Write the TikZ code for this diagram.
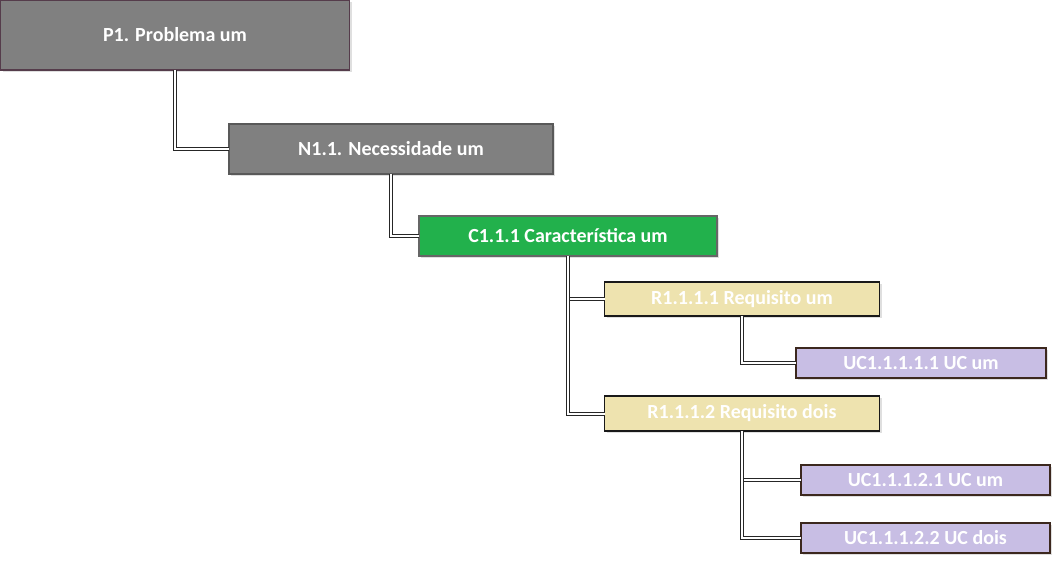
\documentclass[tikz,border=0pt]{standalone}
\usepackage{fontspec}
\setmainfont{Carlito}
\usetikzlibrary{shadows}

\definecolor{probgray}{RGB}{128,128,128}
\definecolor{probborder}{RGB}{85,60,75}
\definecolor{chargreen}{RGB}{34,177,76}
\definecolor{reqbeige}{RGB}{238,227,175}
\definecolor{uclilac}{RGB}{200,190,228}
\definecolor{ucborder}{RGB}{60,40,30}

\begin{document}
\begin{tikzpicture}[x=0.75pt, y=-0.75pt,
    item/.style={draw, outer sep=0pt, inner sep=0pt, text=white,
        font=\fontsize{15}{17}\selectfont\bfseries,
        drop shadow={shadow xshift=1.5pt, shadow yshift=-1.5pt, fill=black!25}},
    prob/.style={item, fill=probgray, draw=probborder, line width=0.8pt},
    need/.style={item, fill=probgray, draw=black!65, line width=0.8pt},
    char/.style={item, fill=chargreen, draw=black!60, line width=0.8pt},
    req/.style={item, fill=reqbeige, draw=black!90, line width=1.4pt},
    uc/.style={item, fill=uclilac, draw=ucborder, line width=1.4pt},
    link/.style={draw=black!85, line width=0.75pt, double=white, double distance=1.5pt}]
    \useasboundingbox (0,0) rectangle (1052,566);

    \node[prob, minimum width=261.75pt, minimum height=52.5pt] (P1) at (175, 35) {P1. Problema um};
    \node[need, minimum width=243pt, minimum height=37.5pt] (N11) at (391, 149) {N1.1. Necessidade um};
    \node[char, minimum width=223.5pt, minimum height=30pt] (C111) at (568, 236) {C1.1.1 Característica um};
    \node[req, minimum width=206.25pt, minimum height=25.5pt] (R1111) at (742, 299) {R1.1.1.1 Requisito um};
    \node[uc, minimum width=187.5pt, minimum height=22.5pt] (UC11111) at (921, 363) {UC1.1.1.1.1 UC um};
    \node[req, minimum width=206.25pt, minimum height=26.25pt] (R1112) at (742, 413.5) {R1.1.1.2 Requisito dois};
    \node[uc, minimum width=186.75pt, minimum height=22.5pt] (UC11121) at (925.5, 480) {UC1.1.1.2.1 UC um};
    \node[uc, minimum width=186.75pt, minimum height=22.5pt] (UC11122) at (925.5, 538) {UC1.1.1.2.2 UC dois};

    \path[link] (P1.south) |- (N11.west);
    \path[link] (N11.south) |- (C111.west);
    \path[link] (C111.south) |- (R1111.west);
    \path[link] (C111.south) |- (R1112.west);
    \path[link] (R1111.south) |- (UC11111.west);
    \path[link] (R1112.south) |- (UC11121.west);
    \path[link] (R1112.south) |- (UC11122.west);
\end{tikzpicture}
\end{document}
